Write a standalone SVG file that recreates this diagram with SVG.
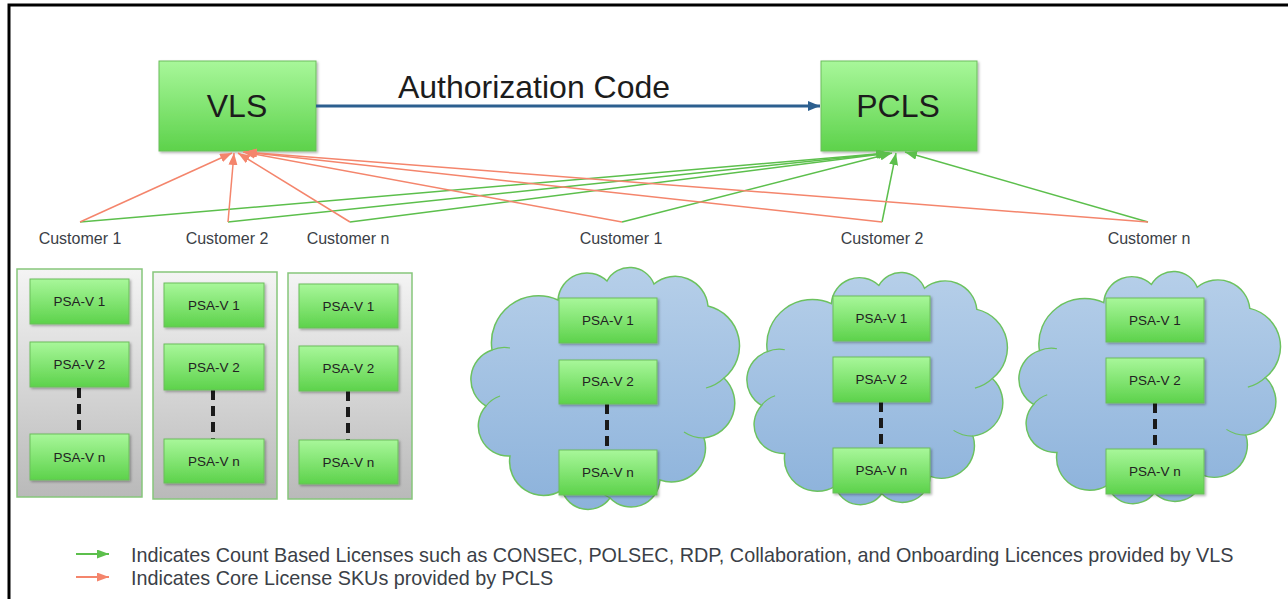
<svg xmlns="http://www.w3.org/2000/svg" width="1288" height="599" viewBox="0 0 1288 599">
<defs>
<linearGradient id="gGreen" x1="0" y1="0" x2="0" y2="1">
<stop offset="0" stop-color="#a8f79a"/>
<stop offset="1" stop-color="#5dd24b"/>
</linearGradient>
<linearGradient id="gGray" x1="0" y1="0" x2="0" y2="1">
<stop offset="0" stop-color="#f4f4f4"/>
<stop offset="1" stop-color="#b9b9b9"/>
</linearGradient>
<linearGradient id="gCloud" x1="0" y1="0" x2="0" y2="1">
<stop offset="0" stop-color="#b6cfe9"/>
<stop offset="1" stop-color="#8cb2db"/>
</linearGradient>
<filter id="sh" x="-10%" y="-10%" width="130%" height="130%">
<feDropShadow dx="1.5" dy="1.5" stdDeviation="1.2" flood-color="#000" flood-opacity="0.3"/>
</filter>
<marker id="aRed" viewBox="0 0 12 9" refX="12" refY="4.5" markerWidth="12" markerHeight="9" markerUnits="userSpaceOnUse" orient="auto">
<path d="M0,0 L12,4.5 L0,9 z" fill="#f4856c"/>
</marker>
<marker id="aGreen" viewBox="0 0 12 9" refX="12" refY="4.5" markerWidth="12" markerHeight="9" markerUnits="userSpaceOnUse" orient="auto">
<path d="M0,0 L12,4.5 L0,9 z" fill="#5cbf4c"/>
</marker>
<marker id="aBlue" viewBox="0 0 12 10" refX="12" refY="5" markerWidth="12" markerHeight="10" markerUnits="userSpaceOnUse" orient="auto">
<path d="M0,0 L12,5 L0,10 z" fill="#2c5f8f"/>
</marker>
<path id="cloud" d="M22,84 A47,47 0 0 1 88,34 A29,29 0 0 1 137,15 A26,26 0 0 1 184,18 A33,33 0 0 1 238,40 A41,41 0 0 1 254,112 A35,35 0 0 1 234,172 A34,34 0 0 1 190,214 A29,29 0 0 1 140,232 A27,27 0 0 1 92,224 A34,34 0 0 1 40,190 A30,30 0 0 1 16,140 A31,31 0 0 1 22,84 Z"/>
<path id="folds" d="M22,84 A31,31 0 0 1 40,82 M254,112 A41,41 0 0 1 236,122 M234,172 A35,35 0 0 1 214,166 M16,140 A30,30 0 0 1 30,130 M140,232 A29,29 0 0 1 126,218"/>
</defs>
<style>
.box{fill:url(#gGreen);stroke:#6cbd5c;stroke-width:1;filter:url(#sh);}
.cont{fill:url(#gGray);stroke:#86c67b;stroke-width:1.5;}
.cl{fill:url(#gCloud);stroke:#6cc25f;stroke-width:1.5;vector-effect:non-scaling-stroke;}
.fold{fill:none;stroke:#6cc25f;stroke-width:1.2;vector-effect:non-scaling-stroke;}
.dash{stroke:#1a1a1a;stroke-width:4;stroke-dasharray:10 6;}
.psa{font-family:"Liberation Sans",Arial,sans-serif;font-size:13.5px;fill:#222;text-anchor:middle;}
.big{font-family:"Liberation Sans",Arial,sans-serif;font-size:32px;fill:#1c1c1c;text-anchor:middle;}
.cust{font-family:"Liberation Sans",Arial,sans-serif;font-size:16px;fill:#3b3f47;text-anchor:middle;}
.leg{font-family:"Liberation Sans",Arial,sans-serif;font-size:19.8px;fill:#3b3f47;}
.red{stroke:#f4856c;stroke-width:1.5;fill:none;marker-end:url(#aRed);}
.grn{stroke:#5cbf4c;stroke-width:1.5;fill:none;marker-end:url(#aGreen);}
.lg{stroke-width:2.2;}
</style>
<rect width="1288" height="599" fill="#ffffff"/>
<path d="M9,599 V5 H1288" fill="none" stroke="#000" stroke-width="3"/>

<g id="VLS">
<rect class="box" x="159" y="61" width="157" height="90"/>
<text class="big" x="237" y="117">VLS</text>
</g>
<g id="PCLS">
<rect class="box" x="821" y="61" width="156" height="90"/>
<text class="big" x="898" y="117">PCLS</text>
</g>

<g id="customer-labels">
<text class="cust" x="80" y="244">Customer 1</text>
<text class="cust" x="227" y="244">Customer 2</text>
<text class="cust" x="348" y="244">Customer n</text>
<text class="cust" x="621" y="244">Customer 1</text>
<text class="cust" x="882" y="244">Customer 2</text>
<text class="cust" x="1149" y="244">Customer n</text>
</g>

<g id="connectors">
<line x1="316" y1="106" x2="820" y2="106" stroke="#2c5f8f" stroke-width="3" marker-end="url(#aBlue)"/>
<text class="big" x="534" y="98">Authorization Code</text>
<line class="grn" x1="80" y1="222" x2="888" y2="153"/>
<line class="grn" x1="228" y1="222" x2="889" y2="153"/>
<line class="grn" x1="350" y1="222" x2="890" y2="153"/>
<line class="grn" x1="622" y1="222" x2="892" y2="153"/>
<line class="grn" x1="882" y1="222" x2="896" y2="153"/>
<line class="grn" x1="1148" y1="222" x2="905" y2="152"/>
<line class="red" x1="80" y1="222" x2="232" y2="153"/>
<line class="red" x1="228" y1="222" x2="234" y2="153"/>
<line class="red" x1="350" y1="222" x2="238" y2="153"/>
<line class="red" x1="622" y1="222" x2="243" y2="152"/>
<line class="red" x1="882" y1="222" x2="244" y2="152"/>
<line class="red" x1="1148" y1="222" x2="245" y2="152"/>
</g>

<g id="site1">
<rect class="cont" x="17" y="269" width="125" height="228"/>
<line class="dash" x1="79" y1="388" x2="79" y2="434"/>
<rect class="box" x="30" y="279" width="99" height="45"/><text class="psa" x="79.5" y="306">PSA-V 1</text>
<rect class="box" x="30" y="342" width="99" height="45"/><text class="psa" x="79.5" y="369">PSA-V 2</text>
<rect class="box" x="30" y="434" width="99" height="46"/><text class="psa" x="79.5" y="462">PSA-V n</text>
</g>
<g id="site2">
<rect class="cont" x="153" y="272" width="124" height="227"/>
<line class="dash" x1="213" y1="390" x2="213" y2="439"/>
<rect class="box" x="164" y="283" width="100" height="44"/><text class="psa" x="214" y="310">PSA-V 1</text>
<rect class="box" x="164" y="344" width="100" height="46"/><text class="psa" x="214" y="372">PSA-V 2</text>
<rect class="box" x="164" y="439" width="100" height="44"/><text class="psa" x="214" y="466">PSA-V n</text>
</g>
<g id="site3">
<rect class="cont" x="288" y="273" width="124" height="226"/>
<line class="dash" x1="348" y1="391" x2="348" y2="440"/>
<rect class="box" x="299" y="284" width="99" height="44"/><text class="psa" x="348.5" y="311">PSA-V 1</text>
<rect class="box" x="299" y="346" width="99" height="45"/><text class="psa" x="348.5" y="373">PSA-V 2</text>
<rect class="box" x="299" y="440" width="99" height="44"/><text class="psa" x="348.5" y="467">PSA-V n</text>
</g>

<g id="cloud1">
<g transform="translate(470,266)"><use href="#cloud" class="cl"/><use href="#folds" class="fold"/></g>
<line class="dash" x1="607" y1="404" x2="607" y2="450"/>
<rect class="box" x="559" y="298" width="98" height="45"/><text class="psa" x="608" y="325">PSA-V 1</text>
<rect class="box" x="559" y="360" width="98" height="44"/><text class="psa" x="608" y="386">PSA-V 2</text>
<rect class="box" x="559" y="450" width="98" height="45"/><text class="psa" x="608" y="477">PSA-V n</text>
</g>
<g id="cloud2">
<g transform="translate(746,271) scale(0.97,0.96)"><use href="#cloud" class="cl"/><use href="#folds" class="fold"/></g>
<line class="dash" x1="881" y1="402" x2="881" y2="448"/>
<rect class="box" x="833" y="296" width="97" height="45"/><text class="psa" x="881.5" y="323">PSA-V 1</text>
<rect class="box" x="833" y="357" width="97" height="45"/><text class="psa" x="881.5" y="384">PSA-V 2</text>
<rect class="box" x="833" y="448" width="97" height="45"/><text class="psa" x="881.5" y="475">PSA-V n</text>
</g>
<g id="cloud3">
<g transform="translate(1018,270) scale(0.974,0.96)"><use href="#cloud" class="cl"/><use href="#folds" class="fold"/></g>
<line class="dash" x1="1155" y1="403" x2="1155" y2="449"/>
<rect class="box" x="1106" y="298" width="98" height="44"/><text class="psa" x="1155" y="325">PSA-V 1</text>
<rect class="box" x="1106" y="358" width="98" height="45"/><text class="psa" x="1155" y="385">PSA-V 2</text>
<rect class="box" x="1106" y="449" width="98" height="45"/><text class="psa" x="1155" y="476">PSA-V n</text>
</g>

<g id="legend">
<line class="grn lg" x1="76" y1="554" x2="109" y2="554"/>
<line class="red lg" x1="76" y1="577" x2="109" y2="577"/>
<text class="leg" x="131" y="562">Indicates Count Based Licenses such as CONSEC, POLSEC, RDP, Collaboration, and Onboarding Licences provided by VLS</text>
<text class="leg" x="131" y="585">Indicates Core License SKUs provided by PCLS</text>
</g>
</svg>
